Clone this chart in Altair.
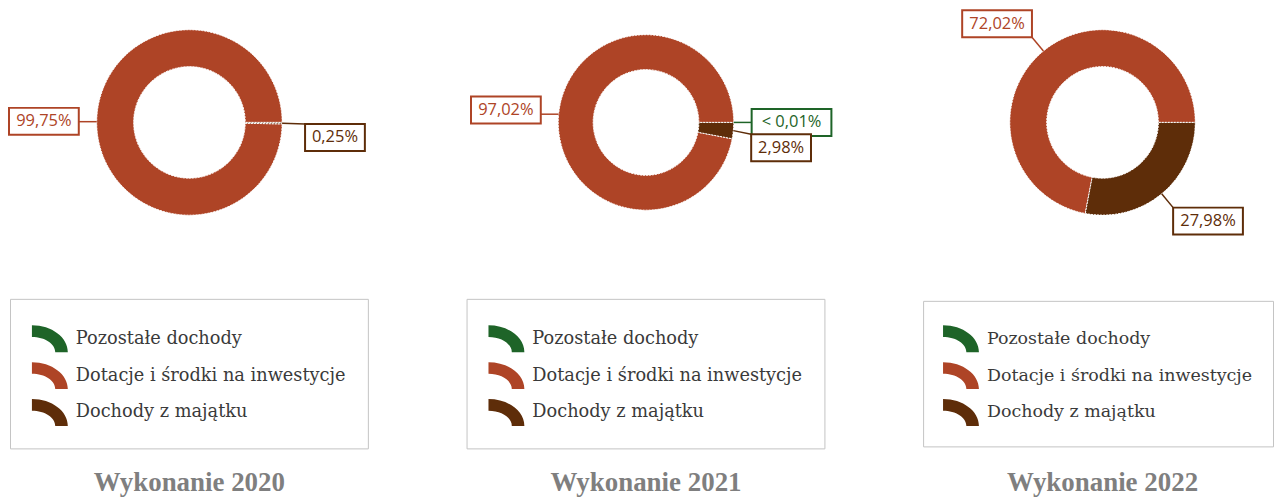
import math
import altair as alt
import pandas as pd

# ---------------- data ----------------
categories = ["Pozostałe dochody", "Dotacje i środki na inwestycje", "Dochody z majątku"]
panel_titles = ["Wykonanie 2020", "Wykonanie 2021", "Wykonanie 2022"]
values_2020 = [0.0, 99.75, 0.25]
values_2021 = [0.005, 97.02, 2.98]
values_2022 = [0.0, 72.02, 27.98]
labels_2020 = ["", "99,75%", "0,25%"]
labels_2021 = ["< 0,01%", "97,02%", "2,98%"]
labels_2022 = ["", "72,02%", "27,98%"]

# ---------------- style ----------------
colors = ["#1E6428", "#AE4426", "#5E2D09"]
slice_order = [0, 2, 1]           # clockwise from 3 o'clock
outer_r = [93, 88, 93]
inner_r = [56, 53, 56]
label_nudge = {(0, 2): (5, 14), (1, 2): (0, 13)}   # (dx, dy) label nudges to avoid overlap
CX, CY = 180, 113
PANEL_W = [358, 358, 350]
PANEL_H = 445
LEG_PAD = [22, 22, 20]
LEG_FONT = [17.8, 17.8, 17.5]
LEG_Y = [290, 290, 292]

LEGEND_SYMBOL = "M -1 -0.75 A 2 1.5 0 0 1 1 0.75 L 0.3 0.75 A 1.3 0.85 0 0 0 -1 -0.1 Z"

cscale = alt.Scale(domain=categories, range=colors)


def panel(i, values, labels):
    df = pd.DataFrame({
        "cat": categories,
        "value": values,
        "label": labels,
        "order": slice_order,
        "ndx": [label_nudge.get((i, k), (0, 0))[0] for k in range(len(categories))],
        "ndy": [label_nudge.get((i, k), (0, 0))[1] for k in range(len(categories))],
    })
    ro, ri = outer_r[i], inner_r[i]
    base = alt.Chart(df).transform_filter("datum.value > 0")

    arcs = base.mark_arc(
        innerRadius=ri, outerRadius=ro, stroke="white", strokeWidth=1, strokeDash=[2, 1]
    ).encode(
        x=alt.value(CX),
        y=alt.value(CY),
        theta=alt.Theta("value:Q", stack=True,
                        scale=alt.Scale(range=[math.pi / 2, math.pi / 2 + 2 * math.pi])),
        order=alt.Order("order:O"),
        color=alt.Color("cat:N", scale=cscale, legend=alt.Legend(
            orient="none", legendX=0, legendY=LEG_Y[i], title=None,
            fillColor="white", strokeColor="#C4C4C4", padding=LEG_PAD[i], cornerRadius=0,
            symbolType=LEGEND_SYMBOL, symbolSize=1296, symbolStrokeWidth=0,
            symbolOpacity=1, labelFont="DejaVu Serif", labelFontSize=LEG_FONT[i],
            labelColor="#3A3A3A", labelOffset=8, rowPadding=5, labelLimit=500,
        )),
    )

    lab = base.transform_joinaggregate(
        total="sum(value)"
    ).transform_window(
        cum="sum(value)", sort=[alt.SortField("order")], frame=[None, 0]
    ).transform_calculate(
        mid="PI/2 + 2*PI*(datum.cum - datum.value/2)/datum.total"
    ).transform_calculate(
        sx="sin(datum.mid)", sy="-cos(datum.mid)"
    ).transform_calculate(
        ax=f"{CX} + {ro}*datum.sx", ay=f"{CY} + {ro}*datum.sy",
        bw="10*length(datum.label) + 10"
    ).transform_calculate(
        lx=f"{CX} + {ro + 18}*datum.sx + datum.bw/2*clamp(2*datum.sx, -1, 1) + datum.ndx",
        ly=f"{CY} + {ro + 18}*datum.sy + 13.5*clamp(2*datum.sy, -1, 1) + datum.ndy",
    ).transform_calculate(
        bx1="datum.lx - datum.bw/2", bx2="datum.lx + datum.bw/2",
        by1="datum.ly - 13.5", by2="datum.ly + 13.5",
    ).transform_calculate(
        ex="clamp(datum.ax, datum.bx1, datum.bx2)",
        ey="clamp(datum.ay, datum.by1, datum.by2)",
    )

    stroke_enc = alt.Stroke("cat:N", scale=cscale, legend=None)
    rules = lab.mark_rule(strokeWidth=1.5).encode(
        x=alt.X("ax:Q", scale=None), y=alt.Y("ay:Q", scale=None),
        x2="ex:Q", y2="ey:Q", stroke=stroke_enc,
    )
    boxes = lab.mark_rect(fill="white", strokeWidth=2).encode(
        x=alt.X("bx1:Q", scale=None), x2="bx2:Q",
        y=alt.Y("by1:Q", scale=None), y2="by2:Q", stroke=stroke_enc,
    )
    texts = lab.mark_text(font="Open Sans", fontSize=16.5, baseline="middle", align="center").encode(
        x=alt.X("lx:Q", scale=None), y=alt.Y("ly:Q", scale=None),
        text="label:N", fill=alt.Fill("cat:N", scale=cscale, legend=None),
    )

    return alt.layer(arcs, rules, boxes, texts).properties(
        width=PANEL_W[i], height=PANEL_H,
        title=alt.Title(panel_titles[i], orient="bottom", anchor="middle",
                        font="Liberation Serif", fontSize=27, fontWeight="bold",
                        color="#7F7F7F", offset=17, dx=CX - PANEL_W[i] / 2),
    )


chart = alt.hconcat(
    panel(0, values_2020, labels_2020),
    panel(1, values_2021, labels_2021),
    panel(2, values_2022, labels_2022),
    spacing=100,
    bounds="flush",
).resolve_scale(
    color="independent", stroke="independent", fill="independent", theta="independent"
).properties(
    padding=0
).configure_view(stroke=None)

chart.save("out.html", embed_options={"renderer": "svg", "actions": False})
